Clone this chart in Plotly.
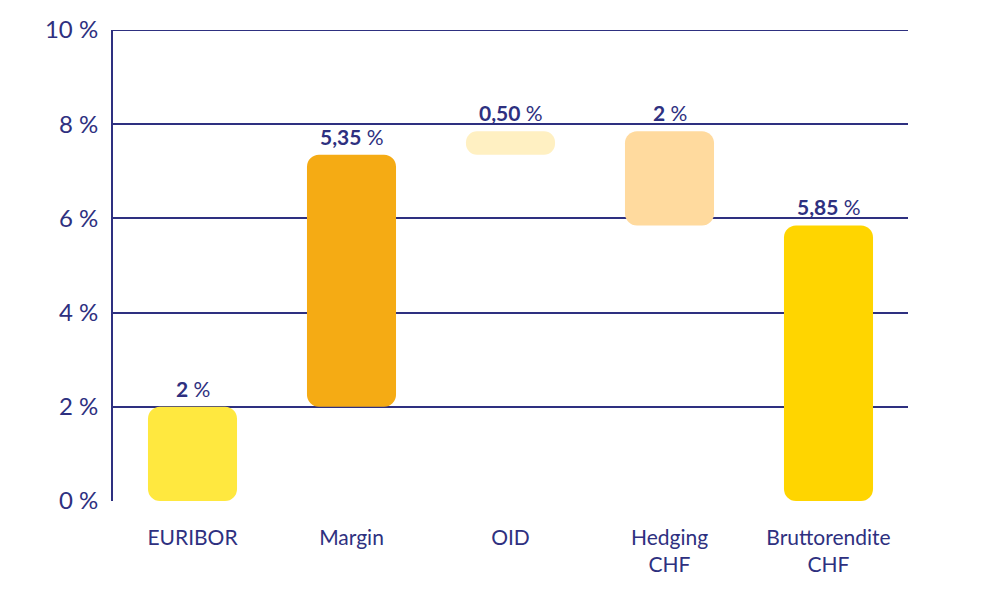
import plotly.graph_objects as go

categories = ["EURIBOR", "Margin", "OID", "Hedging<br>CHF", "Bruttorendite<br>CHF"]
bar_start = [0, 2, 7.35, 7.85, 0]
bar_end = [2, 7.35, 7.85, 5.85, 5.85]
value_labels = ["2", "5,35", "0,50", "2", "5,85"]
colors = ["#FFE83F", "#F5AB14", "#FFF0C2", "#FFDA9E", "#FFD500"]
y_tickvals = [0, 2, 4, 6, 8, 10]
y_ticktext = ["0 %", "2 %", "4 %", "6 %", "8 %", "10 %"]

NAVY = "#2E3080"
FONT = "Lato"

top = [max(a, b) for a, b in zip(bar_start, bar_end)]
bottom = [min(a, b) for a, b in zip(bar_start, bar_end)]
neg_height = [b - t for b, t in zip(bottom, top)]

fig = go.Figure()
fig.add_trace(go.Bar(
    x=categories, y=neg_height, base=top,
    marker=dict(color=colors, line=dict(width=0), cornerradius=12),
    width=0.56, hoverinfo="skip", showlegend=False,
))

for c, t, v in zip(categories, top, value_labels):
    fig.add_annotation(
        x=c, y=t, text=f"<b>{v}</b> %", showarrow=False,
        yanchor="bottom", yshift=4,
        font=dict(family=FONT, size=21, color=NAVY),
    )

# top grid line at 10 %
fig.add_shape(type="line", xref="paper", x0=0, x1=1, yref="y", y0=10, y1=10,
              line=dict(color=NAVY, width=2), layer="below")

fig.update_layout(
    width=1000, height=600,
    margin=dict(l=105, r=100, t=22, b=107),
    paper_bgcolor="white", plot_bgcolor="white",
    barmode="overlay",
    font=dict(family=FONT, color=NAVY),
)
fig.update_xaxes(
    showgrid=False, zeroline=False, showline=False, automargin=False,
    tickfont=dict(family=FONT, size=21, color=NAVY),
    ticklabelstandoff=22,
)
fig.update_yaxes(
    range=[0, 10], tickvals=y_tickvals, ticktext=y_ticktext,
    showgrid=True, gridcolor=NAVY, gridwidth=2, automargin=False,
    zeroline=False, showline=True, linecolor=NAVY, linewidth=2,
    tickfont=dict(family=FONT, size=24, color=NAVY),
    ticklabelstandoff=8,
)
fig.write_html("out.html")
